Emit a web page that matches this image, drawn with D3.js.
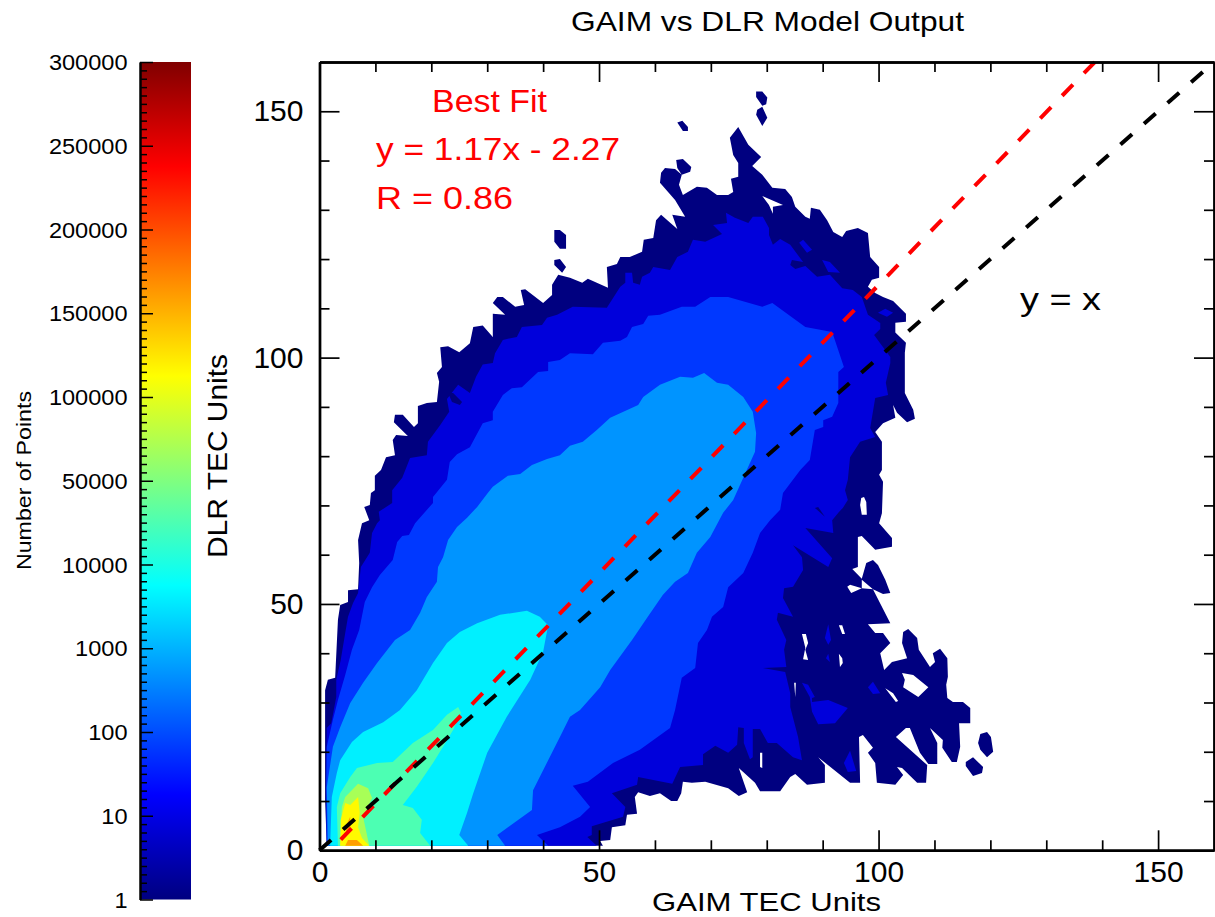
<!DOCTYPE html>
<html>
<head>
<meta charset="utf-8">
<script src="https://cdn.jsdelivr.net/npm/d3@7"></script>
<style>
body { margin:0; background:#fff; }
text { font-family:"Liberation Sans",Arial,sans-serif; }
</style>
</head>
<body>
<div id="chart"></div>
<script>
// contour outlines, in TEC units [gaim, dlr]
const level1Edge=[[1.3,0.9],[1.0,10.2],[1.0,32.5],[1.5,34.6],[2.8,35.0],[3.3,46.8],[3.7,49.8],[5.1,50.4],[5.1,52.8],[6.9,53.0],[7.1,58.3],[6.9,63.0],[7.6,66.4],[8.9,67.0],[8.0,69.7],[9.0,70.1],[9.2,72.5],[9.9,73.1],[9.9,76.0],[11.0,77.2],[11.9,79.8],[13.5,80.2],[13.1,83.3],[13.7,84.3],[15.8,84.1],[13.3,86.9],[13.5,88.4],[14.9,88.4],[16.9,85.9],[17.6,86.7],[17.6,90.2],[19.2,90.8],[21.0,91.0],[21.4,95.1],[21.0,96.9],[21.9,98.1],[21.6,102.1],[23.0,102.3],[25.0,101.1],[26.9,102.9],[27.5,106.2],[29.2,106.5],[31.0,104.2],[31.0,108.9],[33.2,108.7],[31.0,111.1],[31.8,112.3],[32.8,112.3],[35.0,110.3],[36.6,110.7],[36.0,113.7],[36.8,113.9],[40.0,111.1],[41.6,112.7],[41.6,114.8],[42.7,116.8],[44.8,116.2],[47.0,115.2],[48.0,116.0],[51.6,114.2],[51.4,118.4],[53.2,119.0],[53.8,120.4],[55.5,120.4],[57.7,121.5],[58.0,123.9],[59.7,124.3],[60.2,127.9],[61.1,129.0],[64.0,126.1],[63.1,129.0],[65.4,128.6],[63.6,132.0],[60.9,135.5],[61.1,137.5],[61.8,138.5],[63.6,138.3],[64.8,137.1],[64.3,135.1],[65.0,133.0],[67.5,134.7],[69.3,134.5],[71.1,133.0],[73.1,133.0],[74.0,133.6],[73.6,136.3],[74.9,136.7],[74.9,139.5],[74.0,141.1],[73.4,144.6],[74.9,146.8],[76.7,143.2],[79.0,140.7],[77.4,138.9],[79.2,137.1],[81.0,134.5],[83.3,134.2],[84.5,132.6],[85.1,130.6],[86.9,128.6],[87.7,128.2],[87.9,130.4],[89.5,130.0],[90.8,127.9],[91.9,125.5],[93.5,124.5],[94.2,125.7],[96.3,126.3],[98.1,125.3],[98.5,120.4],[100.1,118.4],[100.1,116.2],[98.8,115.8],[98.1,114.4],[99.4,113.1],[100.8,112.3],[102.6,111.5],[104.9,108.9],[104.9,107.3],[103.0,107.1],[103.0,105.1],[104.9,103.0],[104.7,101.0],[104.7,92.8],[106.2,89.4],[106.5,87.6],[105.1,86.9],[103.3,88.8],[102.6,90.4],[103.0,87.8],[100.8,86.7],[99.4,84.9],[100.6,82.9],[100.6,77.2],[100.1,76.2],[100.8,74.8],[100.6,68.4],[100.1,66.4],[102.4,63.4],[102.4,61.6],[99.4,61.0],[97.0,63.8],[96.3,63.6],[96.3,57.5],[95.3,57.1],[97.0,55.1],[97.8,58.3],[99.0,58.9],[99.9,57.9],[101.2,54.9],[102.1,52.2],[100.8,52.0],[99.0,53.0],[102.1,46.1],[98.1,45.9],[99.4,44.1],[100.8,44.1],[102.1,42.1],[100.3,40.0],[101.0,36.6],[102.4,38.2],[105.1,39.0],[104.2,42.1],[104.4,44.3],[105.3,44.9],[106.9,43.1],[107.2,40.7],[109.2,37.2],[110.1,38.2],[109.7,40.0],[111.0,40.9],[112.3,39.0],[112.4,35.2],[112.1,33.6],[112.3,30.9],[113.3,30.1],[115.1,30.1],[116.4,28.9],[116.4,25.8],[114.4,25.8],[114.6,21.0],[114.0,17.9],[113.1,17.9],[111.4,20.8],[111.5,22.4],[109.2,24.8],[110.5,21.8],[110.5,17.5],[108.9,17.5],[107.4,19.8],[105.6,24.8],[104.9,24.8],[103.1,23.0],[108.7,17.3],[108.5,13.7],[106.9,13.7],[104.2,16.7],[103.3,16.9],[104.4,15.3],[103.0,13.3],[99.7,13.7],[99.4,17.7],[98.1,19.8],[99.0,20.8],[97.2,23.4],[96.5,23.0],[96.7,13.7],[94.9,13.7],[89.2,18.9],[90.4,17.3],[90.4,13.7],[87.2,13.3],[85.1,15.5],[84.2,14.9],[82.4,12.0],[78.8,12.0],[77.9,13.7],[75.0,16.7],[76.5,11.8],[75.0,11.0],[73.1,12.6],[69.0,13.9],[66.6,13.7],[65.0,13.9],[64.7,11.6],[64.0,10.0],[62.9,10.0],[60.9,11.6],[59.1,11.0],[57.0,11.8],[56.4,10.8],[56.8,7.4],[55.0,7.2],[54.7,5.1],[52.3,4.7],[52.0,2.1],[50.2,1.9],[50.7,0.9]];
const level1Islands=[
  [[78.1,154.0],[79.2,154.0],[80.1,152.8],[79.9,151.4],[79.2,151.1],[78.1,152.9]],
  [[79.2,150.9],[80.1,148.7],[79.2,147.0],[78.1,149.3],[78.3,150.3]],
  [[64.0,147.7],[64.9,148.1],[65.9,146.8],[65.9,146.0],[65.0,146.0]],
  [[63.8,140.1],[65.0,140.3],[66.5,138.7],[66.3,137.7],[64.8,137.1],[64.0,138.5]],
  [[42.0,125.9],[43.0,125.9],[44.1,124.9],[44.1,122.1],[43.0,122.1],[42.0,123.5]],
  [[42.0,119.8],[43.0,120.0],[44.1,118.4],[43.4,117.2],[42.0,118.8]],
  [[118.2,23.6],[119.4,24.0],[120.1,23.0],[120.5,20.0],[119.4,18.9],[118.2,20.4],[117.8,21.8]],
  [[115.6,17.9],[116.9,18.9],[118.7,16.9],[118.5,15.7],[116.9,15.1],[115.6,17.1]]
];
const level1Gaps=[
  [[79.2,132.8],[82.9,131.0],[81.1,130.6],[81.1,129.2],[80.4,131.0]],
  [[96.9,71.5],[97.4,71.7],[97.8,70.7],[97.9,68.1],[97.0,68.1],[96.7,70.1]],
  [[97.0,54.9],[99.0,53.0],[97.0,53.2]],
  [[94.4,53.5],[94.9,53.9],[97.0,53.2],[95.1,52.2]],
  [[86.3,43.9],[87.0,43.9],[87.4,42.1],[86.9,40.7],[87.4,38.6],[86.5,38.8],[86.9,41.1]],
  [[92.9,45.7],[93.5,45.7],[94.0,43.9],[93.5,43.9]],
  [[92.9,39.9],[93.5,39.0],[93.6,38.0],[93.1,37.2]],
  [[104.2,36.0],[106.2,35.6],[108.9,33.1],[107.1,31.1],[104.4,33.1],[104.7,34.6]],
  [[101.2,32.9],[102.6,31.9],[103.5,30.3],[103.1,30.1]],
  [[84.9,34.0],[85.2,34.0],[85.1,31.1]],
  [[78.8,19.8],[79.2,19.8],[79.2,16.7],[78.8,16.9]]
];
const level2Edge=[[1.3,0.9],[1.2,16.9],[1.3,24.8],[2.1,25.8],[3.0,31.1],[3.0,34.6],[3.8,38.6],[4.6,44.1],[5.1,47.4],[6.0,50.2],[6.9,52.2],[7.4,57.5],[9.0,60.4],[9.4,64.4],[10.3,66.4],[10.8,67.0],[10.6,68.7],[13.0,70.5],[13.0,73.1],[14.8,75.6],[16.2,79.6],[19.2,80.2],[19.4,82.9],[21.6,86.3],[23.2,89.0],[22.8,91.6],[24.8,94.5],[26.9,92.8],[28.0,96.1],[29.2,98.6],[31.0,98.9],[31.4,100.9],[32.8,103.6],[35.3,104.2],[36.2,106.2],[39.8,106.6],[40.7,108.1],[42.5,108.7],[45.3,110.3],[51.4,110.1],[53.8,114.4],[54.7,115.2],[54.7,117.2],[55.9,117.2],[56.1,115.2],[57.3,114.8],[57.7,116.4],[59.1,117.2],[59.7,118.4],[62.7,117.8],[64.0,120.4],[65.9,121.5],[66.8,123.9],[69.0,123.5],[72.0,125.1],[70.4,126.9],[72.9,127.3],[72.7,129.4],[74.3,128.4],[76.7,127.3],[77.5,128.6],[79.3,128.6],[80.4,126.3],[80.4,124.9],[81.1,122.9],[82.4,124.1],[84.2,122.9],[86.5,119.4],[84.5,119.8],[84.2,118.8],[85.1,118.0],[86.9,118.6],[89.0,116.4],[91.3,116.8],[93.5,114.1],[95.4,113.7],[97.0,112.3],[98.1,108.7],[100.3,107.0],[100.3,105.8],[99.2,104.6],[102.1,100.1],[102.1,98.9],[101.3,94.9],[101.7,92.4],[99.4,91.8],[98.5,85.7],[99.4,83.9],[96.7,82.9],[94.9,79.8],[94.5,75.2],[94.0,73.1],[94.5,71.1],[93.6,69.5],[92.8,68.5],[91.7,67.0],[91.9,64.4],[86.9,65.4],[91.7,59.3],[91.0,57.5],[84.7,61.9],[86.3,59.5],[86.5,56.9],[84.7,53.5],[83.1,53.2],[82.9,51.2],[84.7,47.4],[82.0,48.2],[81.8,46.8],[83.5,42.7],[83.1,40.7],[83.5,37.2],[79.3,37.0],[83.3,36.2],[84.2,31.9],[84.2,29.1],[85.6,23.0],[86.3,18.3],[84.7,18.9],[81.8,21.8],[80.2,21.8],[78.8,24.6],[77.5,24.6],[77.5,18.9],[77.0,18.5],[75.9,21.8],[75.9,24.8],[74.9,25.0],[74.7,21.4],[73.1,19.8],[70.8,21.2],[68.6,19.5],[68.6,17.3],[64.5,16.9],[63.1,13.5],[57.0,14.9],[56.8,13.3],[52.3,11.6],[54.7,8.8],[54.3,6.8],[48.7,4.9],[48.7,3.1],[47.9,2.7],[49.6,0.9]];
const level2Islands=[
  [[86.3,34.0],[87.4,33.6],[88.6,31.1],[88.1,30.9],[88.1,30.1],[91.0,30.5],[94.5,28.9],[92.2,25.8],[89.2,25.6],[88.1,28.1],[87.7,31.1]],
  [[99.0,34.2],[100.3,31.9],[99.0,31.7],[98.1,33.1]],
  [[91.0,45.9],[91.5,42.7],[91.0,41.7],[90.4,43.1]],
  [[91.0,39.9],[91.3,38.2],[90.6,39.0]],
  [[94.9,20.2],[96.0,16.1],[94.5,15.9],[93.8,17.7]],
  [[99.9,109.1],[101.2,109.9],[102.6,109.1],[101.5,108.3]],
  [[85.8,123.3],[86.5,123.9],[88.1,121.9],[87.2,121.3]],
  [[89.9,119.8],[91.3,119.4],[93.1,117.2],[91.0,117.4]]
];
const level2Gaps=[
  [[23.0,92.8],[23.9,92.8],[25.5,91.0],[25.1,90.4],[23.7,91.0]],
  [[88.6,69.5],[89.2,69.7],[90.4,67.7]]
];
const level3Edge=[[1.3,0.9],[1.2,12.2],[1.3,21.0],[2.4,26.5],[3.3,30.5],[4.6,35.6],[5.8,40.7],[7.1,44.7],[8.1,50.4],[9.4,53.4],[10.8,55.9],[13.1,58.9],[13.9,62.6],[14.8,63.8],[16.0,64.0],[17.1,66.4],[20.3,70.5],[20.3,71.7],[22.8,75.2],[23.3,78.8],[24.6,80.4],[26.9,81.8],[29.2,86.7],[31.0,87.3],[31.0,89.0],[32.8,92.4],[34.4,93.8],[36.2,94.0],[39.1,97.1],[40.9,97.3],[40.9,99.1],[43.0,99.5],[44.8,100.9],[48.9,100.7],[50.7,103.0],[53.8,103.4],[55.0,104.2],[55.9,106.2],[57.9,106.8],[58.8,108.5],[60.9,108.7],[64.8,110.3],[67.2,110.3],[69.9,112.3],[73.1,112.3],[79.2,110.3],[81.0,111.1],[86.9,106.2],[91.7,105.2],[93.8,98.1],[92.8,97.1],[92.8,90.8],[91.7,88.0],[90.1,87.3],[90.1,85.9],[88.6,85.3],[87.7,79.2],[86.0,77.2],[82.9,72.5],[82.4,69.1],[80.6,67.0],[78.8,64.4],[77.5,60.4],[75.8,56.3],[73.1,53.4],[72.2,49.4],[70.2,47.4],[69.3,44.7],[67.7,42.1],[67.2,37.0],[64.8,35.0],[63.6,28.5],[62.7,24.8],[57.3,20.4],[52.5,17.7],[48.0,13.9],[45.3,13.1],[48.4,8.8],[46.6,6.8],[43.0,4.7],[38.9,3.1],[40.9,0.9]];
const level4Edge=[[1.5,0.9],[1.3,12.8],[2.4,21.0],[3.7,25.0],[5.5,29.9],[7.8,34.0],[10.3,38.0],[13.5,42.7],[16.2,44.7],[18.0,48.2],[19.2,51.4],[21.0,54.5],[21.2,57.5],[22.1,59.5],[23.0,63.0],[24.6,65.6],[26.4,67.5],[28.2,69.7],[30.1,72.5],[31.0,73.8],[33.7,76.0],[35.9,76.4],[38.0,78.2],[40.7,79.4],[43.0,80.2],[44.8,82.1],[47.1,82.9],[49.6,85.3],[52.0,87.8],[57.0,90.4],[57.9,92.0],[60.9,94.5],[64.5,96.1],[66.8,95.9],[68.8,96.9],[71.1,94.9],[73.1,94.5],[75.8,92.0],[77.5,89.0],[78.1,84.7],[77.9,80.9],[75.8,75.6],[74.0,71.1],[72.2,68.5],[69.9,63.6],[67.5,60.4],[65.9,56.3],[63.6,54.5],[61.4,51.8],[58.6,47.2],[55.9,42.7],[52.0,36.6],[50.2,33.1],[46.6,28.5],[44.8,27.1],[43.0,23.0],[38.2,12.2],[38.0,8.2],[31.8,3.1],[33.2,0.9]];
const level5Edge=[[1.9,0.9],[2.2,10.8],[3.1,15.7],[3.7,18.3],[5.8,22.0],[7.8,24.0],[11.4,26.0],[14.4,28.5],[17.4,32.5],[20.3,38.0],[22.8,42.1],[25.1,44.3],[28.2,46.1],[32.3,47.8],[37.1,48.6],[39.4,47.4],[40.9,45.7],[40.0,40.3],[37.7,34.6],[33.5,27.1],[30.0,19.8],[27.5,11.6],[26.4,7.6],[25.0,3.1],[26.6,0.9]];
const level6Edge=[[3.3,0.9],[3.1,8.8],[3.7,11.6],[5.5,14.9],[6.7,16.7],[10.3,17.7],[13.1,17.9],[16.7,21.8],[20.3,24.4],[22.8,27.5],[24.8,29.1],[25.3,27.9],[23.9,24.4],[22.1,21.0],[20.3,17.7],[17.4,12.9],[14.9,9.2],[16.7,8.6],[18.3,6.2],[18.0,3.5],[19.8,0.9]];
const level7Edge=[[3.7,0.9],[4.0,8.8],[4.6,10.8],[6.9,13.5],[8.7,12.6],[9.4,10.6],[7.8,6.8],[8.3,4.1],[8.9,0.9]];
const level8Edge=[[3.7,0.9],[3.8,6.2],[4.6,9.6],[5.5,9.2],[6.9,10.8],[7.2,7.6],[6.9,4.7],[7.6,2.5],[8.9,0.9]];
const level9Edge=[[4.6,0.9],[5.1,2.1],[6.7,2.1],[7.8,0.9]];
const level9Sliver=[[4.6,4.7],[5.5,6.8],[5.5,4.1],[4.9,3.5]];

const barLabels=['1','10','100','1000','10000','50000','100000','150000','200000','250000','300000'];
const axisMajor=[0,50,100,150];
const axisMinor=[10,20,30,40,60,70,80,90,110,120,130,140];
const fitEnds=[3.8,138.7];   // where the red fit line starts and stops
const identityEnds=[0,160];

const width=1215,height=917;
const svg=d3.select('#chart').append('svg').attr('width',width).attr('height',height);

const xscale=d3.scaleLinear().domain([0,160]).range([319.5,1214]);
const yscale=d3.scaleLinear().domain([0,160]).range([850.3,62]);

// rainbow used by both the bar and the filled contours
const jet=d3.scaleLinear()
  .domain([0,0.125,0.375,0.625,0.875,1])
  .range(['#000080','#0000ff','#00ffff','#ffff00','#ff0000','#800000']);
const levelStep=0.09;

const line=d3.line().x(d=>xscale(d[0])).y(d=>yscale(d[1])).curve(d3.curveLinearClosed);

function drawLevel(level,rings){
  svg.append('path')
    .attr('d',rings.map(r=>line(r)).join(''))
    .attr('fill',jet(level*levelStep))
    .attr('fill-rule','evenodd');
}
drawLevel(0,[level1Edge,...level1Islands,...level1Gaps]);
drawLevel(1,[level2Edge,...level2Islands]);
drawLevel(0,level2Gaps);
drawLevel(2,[level3Edge]);
drawLevel(3,[level4Edge]);
drawLevel(4,[level5Edge]);
drawLevel(5,[level6Edge]);
drawLevel(6,[level7Edge]);
drawLevel(7,[level8Edge]);
drawLevel(8,[level9Edge]);
drawLevel(8,[level9Sliver]);

// dashed lines
function dashed(ends,fn,color){
  svg.append('path')
    .datum(ends)
    .attr('fill','none')
    .attr('stroke',color)
    .attr('stroke-width',4)
    .attr('stroke-dasharray','15.5 15.9')
    .attr('d',d3.line().x(d=>xscale(d)).y(d=>yscale(fn(d))));
}
dashed(fitEnds,d=>1.17*d-2.27,'#ff0000');
dashed(identityEnds,d=>d,'#000');

// frame and ticks, long at the labelled values
const bottom=svg.append('g').attr('transform',`translate(0,${yscale(0)})`);
const top2=svg.append('g').attr('transform',`translate(0,${yscale(160)})`);
const left=svg.append('g').attr('transform',`translate(${xscale(0)},0)`);
const right=svg.append('g').attr('transform',`translate(${xscale(160)},0)`);

bottom.append('g').call(d3.axisBottom(xscale).tickValues(axisMinor).tickSizeInner(-10).tickSizeOuter(0).tickFormat(''));
bottom.append('g').call(d3.axisBottom(xscale).tickValues(axisMajor).tickSizeInner(-20).tickSizeOuter(0).tickPadding(10));
top2.append('g').call(d3.axisTop(xscale).tickValues(axisMinor).tickSizeInner(-10).tickSizeOuter(0).tickFormat(''));
top2.append('g').call(d3.axisTop(xscale).tickValues(axisMajor).tickSizeInner(-20).tickSizeOuter(0).tickFormat(''));
left.append('g').call(d3.axisLeft(yscale).tickValues(axisMinor).tickSizeInner(-10).tickSizeOuter(0).tickFormat(''));
left.append('g').call(d3.axisLeft(yscale).tickValues(axisMajor).tickSizeInner(-20).tickSizeOuter(0).tickPadding(16));
right.append('g').call(d3.axisRight(yscale).tickValues(axisMinor).tickSizeInner(-10).tickSizeOuter(0).tickFormat(''));
right.append('g').call(d3.axisRight(yscale).tickValues(axisMajor).tickSizeInner(-20).tickSizeOuter(0).tickFormat(''));
svg.selectAll('.tick line').attr('stroke','#000').attr('stroke-width',1.7);
svg.selectAll('.domain').attr('stroke','#000').attr('stroke-width',2.4);
svg.selectAll('.tick text').attr('fill','#000').style('font-size','30px');

// colour bar on the left
const barscale=d3.scalePoint().domain(barLabels).range([899.5,62]);
const defs=svg.append('defs');
const grad=defs.append('linearGradient').attr('id','jetbar').attr('x1',0).attr('x2',0).attr('y1',1).attr('y2',0);
grad.selectAll('stop').data(jet.domain()).enter().append('stop')
  .attr('offset',d=>d).attr('stop-color',d=>jet(d));
svg.append('rect').attr('x',140).attr('width',51).attr('y',barscale('300000')).attr('height',barscale('1')-barscale('300000')).attr('fill','url(#jetbar)');

const barMinor=d3.range(0,barLabels.length-1).flatMap(i=>d3.range(1,10).map(k=>i+k/10));
const barlinear=d3.scaleLinear().domain([0,barLabels.length-1]).range([899.5,62]);
const barAxis=svg.append('g').attr('transform','translate(140,0)');
barAxis.append('g').call(d3.axisRight(barlinear).tickValues(barMinor).tickSizeInner(7).tickSizeOuter(0).tickFormat(''));
barAxis.append('g').call(d3.axisRight(barlinear).tickValues(d3.range(barLabels.length)).tickSizeInner(13).tickSizeOuter(0).tickFormat(''));
barAxis.selectAll('.tick line').attr('stroke','#000').attr('stroke-width',1.5);
barAxis.selectAll('.domain').attr('stroke','#000').attr('stroke-width',2);

svg.selectAll('.barlabel').data(barLabels).enter().append('text')
  .attr('class','barlabel')
  .attr('x',127.5).attr('y',d=>barscale(d)+8)
  .attr('text-anchor','end')
  .attr('textLength',d=>d.length*13.1)
  .attr('lengthAdjust','spacingAndGlyphs')
  .style('font-size','21.5px')
  .text(d=>d);

// titles and notes
function label(s,x,y,size,color,len,rot){
  const t=svg.append('text').attr('x',x).attr('y',y).attr('fill',color).style('font-size',size+'px')
    .attr('textLength',len).attr('lengthAdjust','spacingAndGlyphs').text(s);
  if(rot) t.attr('transform',`rotate(-90 ${x} ${y})`);
}
label('GAIM vs DLR Model Output',571,31,28,'#000',393);
label('GAIM TEC Units',652,911,26.5,'#000',229);
label('DLR TEC Units',227,558,28,'#000',204,true);
label('Number of Points',31,570,21,'#000',179,true);
label('Best Fit',432,112,31,'#f00',115);
label('y = 1.17x - 2.27',376,160,31,'#f00',244);
label('R = 0.86',376,209,31,'#f00',137);
label('y = x',1020,310,31,'#000',81);
</script>
</body>
</html>
